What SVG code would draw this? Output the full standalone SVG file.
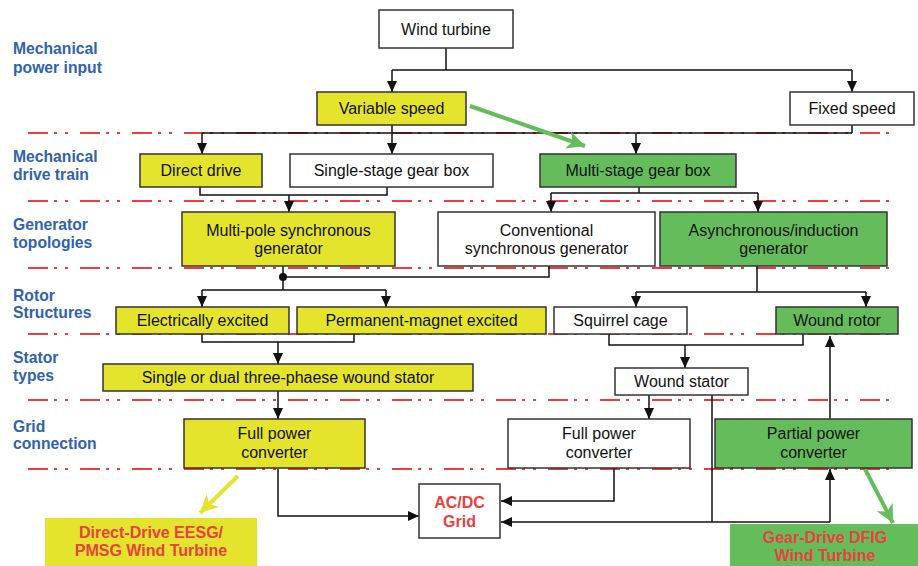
<svg xmlns="http://www.w3.org/2000/svg" width="918" height="566" viewBox="0 0 918 566">
<defs>
<style>
.bx{stroke:#333;stroke-width:1.5}
.w{fill:#fff}
.y{fill:#e4e42c}
.g{fill:#64bd5a}
.t{font-family:"Liberation Sans",Arial,sans-serif;font-size:16px;fill:#111;text-anchor:middle}
.lbl{font-family:"Liberation Sans",Arial,sans-serif;font-size:15.7px;font-weight:bold;fill:#2f63b0}
.red{font-family:"Liberation Sans",Arial,sans-serif;font-size:16px;font-weight:bold;fill:#ea4040;text-anchor:middle}
.sep{stroke:#ee3b3b;stroke-width:2.2;stroke-dasharray:20 6 3 8 3 12;fill:none}
.c{stroke:#111;stroke-width:1.5;fill:none}
.a{stroke:#111;stroke-width:1.5;fill:none;marker-end:url(#ah)}
</style>
<marker id="ah" markerUnits="userSpaceOnUse" markerWidth="12" markerHeight="12" refX="11" refY="5" orient="auto">
<path d="M0 0 L11 5 L0 10 Z" fill="#111"/>
</marker>
<marker id="ahg" markerUnits="userSpaceOnUse" markerWidth="22" markerHeight="22" refX="18" refY="9" orient="auto">
<path d="M0 0 L18 9 L0 18 L5 9 Z" fill="#64bd5a"/>
</marker>
<marker id="ahy" markerUnits="userSpaceOnUse" markerWidth="22" markerHeight="22" refX="18" refY="9" orient="auto">
<path d="M0 0 L18 9 L0 18 L5 9 Z" fill="#e4e42c"/>
</marker>
</defs>
<rect width="918" height="566" fill="#fff"/>

<g id="layer-labels">
<text class="lbl" x="13" y="54">Mechanical</text>
<text class="lbl" x="13" y="73">power input</text>
<text class="lbl" x="13" y="162">Mechanical</text>
<text class="lbl" x="13" y="180">drive train</text>
<text class="lbl" x="13" y="230">Generator</text>
<text class="lbl" x="13" y="248">topologies</text>
<text class="lbl" x="13" y="301">Rotor</text>
<text class="lbl" x="13" y="318">Structures</text>
<text class="lbl" x="13" y="363">Stator</text>
<text class="lbl" x="13" y="381">types</text>
<text class="lbl" x="13" y="432">Grid</text>
<text class="lbl" x="13" y="449">connection</text>
</g>

<g id="separators">
<line class="sep" x1="28" y1="133" x2="896" y2="133"/>
<line class="sep" x1="28" y1="201" x2="896" y2="201"/>
<line class="sep" x1="28" y1="268" x2="896" y2="268"/>
<line class="sep" x1="28" y1="334" x2="896" y2="334"/>
<line class="sep" x1="28" y1="400" x2="896" y2="400"/>
<line class="sep" x1="28" y1="469" x2="896" y2="469"/>
</g>

<g id="connectors">
<path class="c" d="M446 48 V70 M392 70 H852"/>
<path class="a" d="M392 70 V92"/>
<path class="a" d="M852 70 V92"/>
<path class="c" d="M392 125 V133 M852 125 V133 M202 133 H852"/>
<path class="a" d="M202 133 V154"/>
<path class="a" d="M392 133 V154"/>
<path class="a" d="M636 133 V154"/>
<path class="c" d="M200 187 V195 H387 V187"/>
<path class="a" d="M289 195 V212"/>
<path class="c" d="M639 187 V193 M551 193 H758"/>
<path class="a" d="M551 193 V212"/>
<path class="a" d="M758 193 V212"/>
<path class="c" d="M283 266 V290 M283 277 H549 V266 M202 290 H386"/>
<circle cx="283" cy="277" r="4" fill="#111"/>
<path class="a" d="M202 290 V307"/>
<path class="a" d="M386 290 V307"/>
<path class="c" d="M757 266 V292 M636 292 H866"/>
<path class="a" d="M636 292 V307"/>
<path class="a" d="M866 292 V307"/>
<path class="c" d="M202 334 V342 H354 V334"/>
<path class="a" d="M278 342 V364"/>
<path class="c" d="M609 334 V345 H803 V334"/>
<path class="a" d="M685 345 V368"/>
<path class="a" d="M278 391 V419"/>
<path class="a" d="M649 395 V419"/>
<path class="c" d="M712 395 V522"/>
<path class="a" d="M830 522 H501"/>
<path class="a" d="M830 522 V469"/>
<path class="a" d="M830 419 V336"/>
<path class="a" d="M278 469 V516 H419"/>
<path class="a" d="M614 468 V501 H501"/>
<line x1="470" y1="106" x2="585" y2="146" stroke="#64bd5a" stroke-width="4" marker-end="url(#ahg)"/>
<line x1="865" y1="469" x2="893" y2="523" stroke="#64bd5a" stroke-width="4" marker-end="url(#ahg)"/>
<line x1="238" y1="476" x2="200" y2="513" stroke="#e4e42c" stroke-width="4" marker-end="url(#ahy)"/>
</g>

<g id="wind-turbine"><rect class="bx w" x="379" y="10" width="134" height="38"/><text class="t" x="446" y="35">Wind turbine</text></g>
<g id="variable-speed"><rect class="bx y" x="317" y="92" width="149" height="33"/><text class="t" x="391.5" y="114">Variable speed</text></g>
<g id="fixed-speed"><rect class="bx w" x="790" y="92" width="124" height="33"/><text class="t" x="852" y="114">Fixed speed</text></g>
<g id="direct-drive"><rect class="bx y" x="140" y="154" width="122" height="33"/><text class="t" x="201" y="176">Direct drive</text></g>
<g id="single-stage"><rect class="bx w" x="290" y="154" width="203" height="33"/><text class="t" x="391.5" y="176">Single-stage gear box</text></g>
<g id="multi-stage"><rect class="bx g" x="540" y="154" width="196" height="33"/><text class="t" x="638" y="176">Multi-stage gear box</text></g>
<g id="multi-pole"><rect class="bx y" x="182" y="212" width="213" height="54"/><text class="t" x="288.5" y="236">Multi-pole synchronous</text><text class="t" x="288.5" y="254">generator</text></g>
<g id="conventional"><rect class="bx w" x="438" y="212" width="217" height="54"/><text class="t" x="546.5" y="236">Conventional</text><text class="t" x="546.5" y="254">synchronous generator</text></g>
<g id="asynchronous"><rect class="bx g" x="660" y="212" width="227" height="54"/><text class="t" x="773.5" y="236">Asynchronous/induction</text><text class="t" x="773.5" y="254">generator</text></g>
<g id="electrically-excited"><rect class="bx y" x="116" y="307" width="173" height="27"/><text class="t" x="202.5" y="326">Electrically excited</text></g>
<g id="permanent-magnet"><rect class="bx y" x="297" y="307" width="249" height="27"/><text class="t" x="421.5" y="326">Permanent-magnet excited</text></g>
<g id="squirrel-cage"><rect class="bx w" x="554" y="307" width="133" height="27"/><text class="t" x="620.5" y="326">Squirrel cage</text></g>
<g id="wound-rotor"><rect class="bx g" x="776" y="307" width="122" height="27"/><text class="t" x="837" y="326">Wound rotor</text></g>
<g id="single-dual-stator"><rect class="bx y" x="103" y="364" width="370" height="27"/><text class="t" x="288" y="383">Single or dual three-phaese wound stator</text></g>
<g id="wound-stator"><rect class="bx w" x="615" y="368" width="133" height="27"/><text class="t" x="681.5" y="387">Wound stator</text></g>
<g id="full-power-yellow"><rect class="bx y" x="184" y="419" width="181" height="49"/><text class="t" x="274.5" y="439">Full power</text><text class="t" x="274.5" y="458">converter</text></g>
<g id="full-power-white"><rect class="bx w" x="508" y="419" width="182" height="49"/><text class="t" x="599" y="439">Full power</text><text class="t" x="599" y="458">converter</text></g>
<g id="partial-power"><rect class="bx g" x="715" y="419" width="197" height="49"/><text class="t" x="813.5" y="439">Partial power</text><text class="t" x="813.5" y="458">converter</text></g>
<g id="acdc-grid"><rect class="bx w" x="419" y="484" width="81" height="54"/><text class="red" x="459.5" y="508">AC/DC</text><text class="red" x="459.5" y="527">Grid</text></g>
<g id="direct-drive-label"><rect x="45" y="518" width="212" height="48" fill="#e4e42c"/><text class="red" x="151" y="538">Direct-Drive EESG/</text><text class="red" x="151" y="556">PMSG Wind Turbine</text></g>
<g id="gear-drive-label"><rect x="730" y="524" width="188" height="42" fill="#64bd5a"/><text class="red" x="825" y="543">Gear-Drive DFIG</text><text class="red" x="825" y="561">Wind Turbine</text></g>
</svg>
